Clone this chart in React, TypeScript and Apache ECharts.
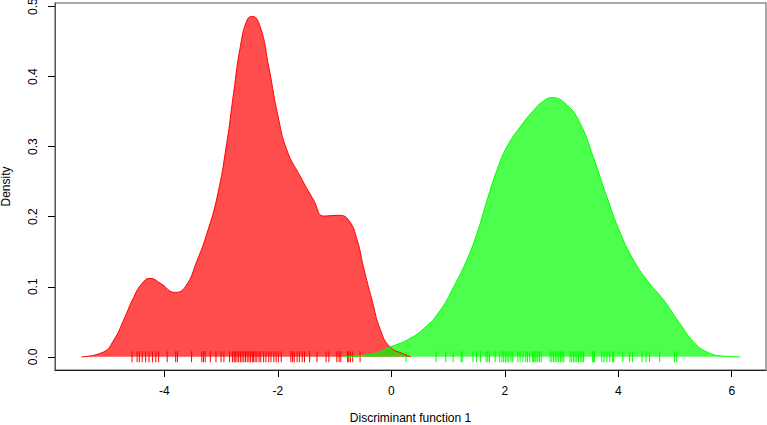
import React, { useEffect, useRef } from "react";
import * as echarts from "echarts";

// Density curve of group 1 (red)
const redX = [-5.46, -5.07, -4.89, -4.72, -4.54, -4.39, -4.25, -4.07, -3.81, -3.63, -3.42, -3.25, -3.07, -2.9, -2.78, -2.66, -2.54, -2.45, -2.31, -2.16, -2.0, -1.84, -1.6, -1.37, -1.19, -0.93, -0.75, -0.6, -0.49, -0.34, -0.19, -0.02, 0.22, 0.35];
const redY = [0, 0.007, 0.024, 0.052, 0.085, 0.105, 0.112, 0.105, 0.092, 0.1, 0.138, 0.176, 0.228, 0.305, 0.376, 0.443, 0.481, 0.486, 0.471, 0.414, 0.345, 0.295, 0.257, 0.224, 0.201, 0.202, 0.195, 0.166, 0.128, 0.081, 0.038, 0.014, 0.004, 0];

// Density curve of group 2 (green)
const greenX = [-0.85, -0.31, -0.02, 0.28, 0.57, 0.86, 1.1, 1.33, 1.51, 1.69, 1.86, 2.04, 2.27, 2.51, 2.68, 2.83, 3.1, 3.33, 3.56, 3.8, 4.04, 4.27, 4.51, 4.8, 5.09, 5.33, 5.56, 5.85, 6.15];
const greenY = [0, 0.0046, 0.014, 0.024, 0.04, 0.066, 0.1, 0.138, 0.176, 0.224, 0.266, 0.3, 0.328, 0.352, 0.365, 0.37, 0.359, 0.333, 0.285, 0.228, 0.176, 0.138, 0.109, 0.081, 0.047, 0.021, 0.007, 0.001, 0];

// Rug observations
const redRug = [-4.57, -4.48, -4.44, -4.39, -4.33, -4.27, -4.21, -4.15, -4.1, -3.95, -3.8, -3.77, -3.52, -3.34, -3.31, -3.28, -3.19, -3.09, -3.0, -2.95, -2.85, -2.8, -2.77, -2.75, -2.72, -2.69, -2.66, -2.63, -2.6, -2.57, -2.54, -2.51, -2.48, -2.45, -2.43, -2.4, -2.37, -2.33, -2.3, -2.25, -2.21, -2.16, -2.12, -2.07, -2.03, -1.99, -1.94, -1.77, -1.74, -1.71, -1.66, -1.62, -1.57, -1.53, -1.44, -1.31, -1.15, -1.1, -0.96, -0.92, -0.89, -0.77, -0.75, -0.72, -0.68, -0.55];
const greenRug = [0.26, 0.79, 0.96, 1.09, 1.23, 1.25, 1.44, 1.5, 1.57, 1.67, 1.7, 1.73, 1.83, 1.91, 1.95, 1.98, 2.01, 2.04, 2.07, 2.11, 2.14, 2.23, 2.27, 2.32, 2.37, 2.4, 2.44, 2.49, 2.51, 2.53, 2.55, 2.58, 2.61, 2.64, 2.8, 2.83, 2.86, 2.89, 2.92, 2.95, 2.98, 3.01, 3.04, 3.15, 3.18, 3.21, 3.24, 3.27, 3.3, 3.33, 3.36, 3.39, 3.55, 3.56, 3.58, 3.71, 3.75, 3.8, 3.85, 3.9, 3.92, 4.08, 4.2, 4.25, 4.42, 4.49, 4.55, 4.73, 4.99, 5.03];

const xTicks = [-4, -2, 0, 2, 4, 6];
const yTicks = [0, 0.1, 0.2, 0.3, 0.4, 0.5];

const FONT = "Liberation Sans";

export default function App() {
  const ref = useRef<HTMLDivElement>(null);
  useEffect(() => {
    document.body.style.margin = "0";
    const chart = echarts.init(ref.current!, null, { renderer: "svg" });
    const zip = (xs: number[], ys: number[]) => xs.map((x, i) => [x, ys[i]]);
    chart.setOption({
      animation: false,
      backgroundColor: "#ffffff",
      grid: {
        left: 55,
        right: 1,
        top: 3,
        bottom: 55,
        containLabel: false,
        outerBoundsMode: "none",
        show: true,
        borderColor: "#8c8c8c",
        borderWidth: 1.5,
        backgroundColor: "transparent",
      },
      xAxis: {
        type: "value",
        min: -5.927,
        max: 6.604,
        name: "Discriminant function 1",
        nameLocation: "middle",
        nameGap: 42,
        nameTextStyle: { fontFamily: FONT, fontSize: 12, color: "#000" },
        axisLine: { show: true, onZero: false, lineStyle: { color: "#222", width: 1 } },
        axisTick: { show: true, customValues: xTicks, length: 7, lineStyle: { color: "#000" } },
        axisLabel: {
          customValues: xTicks,
          margin: 15,
          fontFamily: FONT,
          fontSize: 12,
          color: "#000",
          formatter: (v: number) => String(v),
        },
        splitLine: { show: false },
      },
      yAxis: {
        type: "value",
        min: -0.0188,
        max: 0.5051,
        name: "Density",
        nameLocation: "middle",
        nameGap: 43,
        nameTextStyle: { fontFamily: FONT, fontSize: 12, color: "#000" },
        axisLine: { show: true, onZero: false, lineStyle: { color: "#555", width: 1 } },
        axisTick: { show: true, customValues: yTicks, length: 7, lineStyle: { color: "#000" } },
        axisLabel: {
          customValues: yTicks,
          rotate: 90,
          margin: 16,
          fontFamily: FONT,
          fontSize: 12,
          color: "#000",
          formatter: (v: number) => v.toFixed(1),
        },
        splitLine: { show: false },
      },
      series: [
        {
          type: "line",
          data: zip(redX, redY),
          smooth: 0.5,
          showSymbol: false,
          symbol: "none",
          lineStyle: { color: "#ff0000", width: 1 },
          areaStyle: { color: "rgba(255,0,0,0.7)", opacity: 1 },
          silent: true,
        },
        {
          type: "line",
          data: zip(greenX, greenY),
          smooth: 0.5,
          showSymbol: false,
          symbol: "none",
          lineStyle: { color: "#00ff00", width: 1 },
          areaStyle: { color: "rgba(0,255,0,0.7)", opacity: 1 },
          silent: true,
        },
        {
          type: "scatter",
          data: redRug.map((x) => [x, 0]),
          symbol: "rect",
          symbolSize: [1, 11],
          itemStyle: { color: "#ff0000", opacity: 1 },
          silent: true,
        },
        {
          type: "scatter",
          data: greenRug.map((x) => [x, 0]),
          symbol: "rect",
          symbolSize: [1, 11],
          itemStyle: { color: "#00ff00", opacity: 1 },
          silent: true,
        },
      ],
    });
    return () => chart.dispose();
  }, []);
  return <div ref={ref} style={{ width: 767, height: 425 }} />;
}
